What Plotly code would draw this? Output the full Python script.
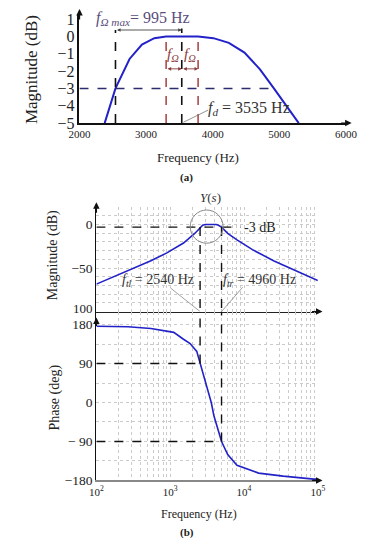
import numpy as np
import plotly.graph_objects as go

W, H = 373, 550
FONT = "Liberation Serif, Times New Roman, serif"

# ---------------- data ----------------
# panel (a): passband magnitude (linear frequency axis)
a_freq = [2378, 2540, 2751, 2937, 3123, 3300, 3535, 3780, 4010, 4242, 4476, 4709, 4918, 5128, 5291]
a_mag = [-5.0, -3.0, -1.3, -0.47, -0.1, 0.0, 0.0, 0.0, -0.1, -0.37, -0.93, -1.9, -3.0, -4.1, -5.0]
a_xticks = [2000, 3000, 4000, 5000, 6000]
a_yticks = [1, 0, -1, -2, -3, -4, -5]
f_d = 3535
f_lo = 2540
f_omega_lo, f_omega_hi = 3300, 3780
f_right3 = 4918

# panel (b): Bode plot of Y(s)
b_freq_mag = [100, 162, 329, 548, 902, 1514, 2168, 2540, 2750, 3000, 3535, 4200, 4500, 4960,
              6010, 8030, 13000, 25500, 45400, 70000, 100000]
b_mag = [-68.5, -60.7, -49.4, -41.6, -32.6, -21.3, -10.0, -3.0, -0.8, 0.0, 0.3, 0.0, -0.8, -3.0,
         -10.1, -17.6, -28.9, -41.9, -51.3, -58.4, -64.5]
b_freq_ph = [100, 268, 548, 1117, 1514, 1860, 2290, 2540, 3000, 3300, 3600, 3900, 4300, 4700, 4960,
             6010, 8030, 15740, 33900, 88500, 100000]
b_phase = [176, 175, 171, 162, 146, 136, 118, 90, 50, 22, 0, -30, -55, -78, -90,
           -120, -145, -163, -170, -177, -177]
f_tl, f_tr = 2540, 4960
b_xticks = [100, 1000, 10000, 100000]
b_xticktext = ["10<sup>2</sup>", "10<sup>3</sup>", "10<sup>4</sup>", "10<sup>5</sup>"]
b_minor = [m * d for d in (100, 1000, 10000) for m in range(2, 10)]
mag_grid = list(range(-100, 21, 10))
mag_labels = {0: "0", -50: "\u221250"}
mag_bottom_label = "100"
ph_grid = [-180, -135, -90, -45, 0, 45, 90, 135, 180]
ph_labels = {180: "180", 90: "90", 0: "0", -90: "\u2212 90", -180: "\u2212180"}
PH_TOP = 210


def px_x(p):
    return p / W


def px_y(p):
    return 1 - p / H


BLUE = "#2222c8"
fig = go.Figure()

# ---------------- panel (a) ----------------
fig.add_trace(go.Scatter(x=a_freq, y=a_mag, mode="lines", line=dict(color=BLUE, width=2),
                         xaxis="x", yaxis="y", showlegend=False))
fig.add_trace(go.Scatter(x=[2000, f_right3], y=[-3, -3], mode="lines",
                         line=dict(color="#2b2b6e", width=1.5, dash="dash"),
                         xaxis="x", yaxis="y", showlegend=False))
fig.add_trace(go.Scatter(x=[f_lo, f_lo], y=[-5, 0.37], mode="lines",
                         line=dict(color="#111", width=1.6, dash="dash"),
                         xaxis="x", yaxis="y", showlegend=False))
fig.add_trace(go.Scatter(x=[f_d, f_d], y=[-5, 0.45], mode="lines",
                         line=dict(color="#111", width=1.6, dash="dash"),
                         xaxis="x", yaxis="y", showlegend=False))
for fv in (f_omega_lo, f_omega_hi):
    fig.add_trace(go.Scatter(x=[fv, fv], y=[-5, 0], mode="lines",
                             line=dict(color="#a0302e", width=1.4, dash="dash"),
                             xaxis="x", yaxis="y", showlegend=False))
fig.add_trace(go.Scatter(x=[3560, 3930], y=[-4.95, -4.25], mode="lines",
                         line=dict(color="#777", width=0.8),
                         xaxis="x", yaxis="y", showlegend=False))

# ---------------- panel (b) magnitude ----------------
fig.add_trace(go.Scatter(x=b_freq_mag, y=b_mag, mode="lines", line=dict(color=BLUE, width=1.6),
                         xaxis="x2", yaxis="y2", showlegend=False))
fig.add_trace(go.Scatter(x=[100, 9000], y=[-3, -3], mode="lines",
                         line=dict(color="#111", width=1.4, dash="dash"),
                         xaxis="x2", yaxis="y2", showlegend=False))
for fv in (f_tl, f_tr):
    fig.add_trace(go.Scatter(x=[fv, fv], y=[-3, -100], mode="lines",
                             line=dict(color="#111", width=1.4, dash="dash"),
                             xaxis="x2", yaxis="y2", showlegend=False))
fig.add_trace(go.Scatter(x=[1010, f_tl], y=[-73, -100], mode="lines",
                         line=dict(color="#888", width=0.8), xaxis="x2", yaxis="y2", showlegend=False))
fig.add_trace(go.Scatter(x=[9600, f_tr], y=[-72, -100], mode="lines",
                         line=dict(color="#888", width=0.8), xaxis="x2", yaxis="y2", showlegend=False))

# ---------------- panel (b) phase ----------------
fig.add_trace(go.Scatter(x=b_freq_ph, y=b_phase, mode="lines", line=dict(color=BLUE, width=1.6),
                         xaxis="x3", yaxis="y3", showlegend=False))
fig.add_trace(go.Scatter(x=[100, f_tl], y=[90, 90], mode="lines",
                         line=dict(color="#111", width=1.4, dash="dash"),
                         xaxis="x3", yaxis="y3", showlegend=False))
fig.add_trace(go.Scatter(x=[100, f_tr], y=[-90, -90], mode="lines",
                         line=dict(color="#111", width=1.4, dash="dash"),
                         xaxis="x3", yaxis="y3", showlegend=False))
fig.add_trace(go.Scatter(x=[f_tl, f_tl], y=[90, PH_TOP], mode="lines",
                         line=dict(color="#111", width=1.4, dash="dash"),
                         xaxis="x3", yaxis="y3", showlegend=False))
fig.add_trace(go.Scatter(x=[f_tr, f_tr], y=[-90, PH_TOP], mode="lines",
                         line=dict(color="#111", width=1.4, dash="dash"),
                         xaxis="x3", yaxis="y3", showlegend=False))

gridc = "#cbcbcb"
layout = dict(
    width=W, height=H, margin=dict(l=0, r=0, t=0, b=0),
    paper_bgcolor="white", plot_bgcolor="rgba(0,0,0,0)",
    font=dict(family=FONT, color="#222"),
    xaxis=dict(domain=[px_x(73), px_x(357)], range=[2000, 6000], tickvals=a_xticks,
               showline=True, linecolor="#111", linewidth=1.5, showgrid=False, zeroline=False,
               ticks="", tickfont=dict(size=11, family=FONT), anchor="y"),
    yaxis=dict(domain=[px_y(122), px_y(11)], range=[-5, 1.25], tickvals=a_yticks,
               showline=True, linecolor="#111", linewidth=1.5, showgrid=False, zeroline=False,
               ticks="", tickfont=dict(size=16, family=FONT), anchor="x"),
    xaxis2=dict(domain=[px_x(91), px_x(327)], type="log", range=[2, 5], tickvals=b_xticks,
                showticklabels=False, showline=True, linecolor="#222", linewidth=1.3,
                showgrid=True, gridcolor=gridc, griddash="dot", gridwidth=1, zeroline=False,
                minor=dict(tickvals=b_minor, showgrid=True, gridcolor=gridc, griddash="dot", gridwidth=1),
                ticks="", anchor="y2"),
    yaxis2=dict(domain=[px_y(315), px_y(208)], range=[-100, 20], tickvals=mag_grid,
                ticktext=[mag_labels.get(v, "") for v in mag_grid],
                showline=True, linecolor="#111", linewidth=1.3, showgrid=True, gridcolor=gridc,
                griddash="dot", gridwidth=1, zeroline=False, ticks="",
                tickfont=dict(size=13.5, family=FONT), anchor="x2"),
    xaxis3=dict(domain=[px_x(91), px_x(327)], type="log", range=[2, 5], tickvals=b_xticks,
                ticktext=b_xticktext, tickfont=dict(size=11, family=FONT),
                showline=True, linecolor="#888", linewidth=2.2,
                showgrid=True, gridcolor=gridc, griddash="dot", gridwidth=1, zeroline=False,
                minor=dict(tickvals=b_minor, showgrid=True, gridcolor=gridc, griddash="dot", gridwidth=1),
                ticks="", anchor="y3"),
    yaxis3=dict(domain=[px_y(488), px_y(315)], range=[-180, PH_TOP], tickvals=ph_grid,
                ticktext=[ph_labels.get(v, "") for v in ph_grid],
                showline=True, linecolor="#111", linewidth=1.3, showgrid=True, gridcolor=gridc,
                griddash="dot", gridwidth=1, zeroline=False, ticks="",
                tickfont=dict(size=13.5, family=FONT), anchor="x3"),
)
fig.update_layout(**layout)

ann = []


def text(x, y, s, size, color="#222", xref="paper", yref="paper", xanchor="center", textangle=0):
    ann.append(dict(x=x, y=y, xref=xref, yref=yref, text=s, showarrow=False,
                    font=dict(family=FONT, size=size, color=color), xanchor=xanchor,
                    yanchor="middle", textangle=textangle))


def arrow_px(xp, yp, dx, dy, color="#111"):
    ann.append(dict(x=px_x(xp), y=px_y(yp), xref="paper", yref="paper", ax=dx, ay=dy,
                    axref="pixel", ayref="pixel", showarrow=True, arrowhead=2, arrowsize=1,
                    arrowwidth=1.3, arrowcolor=color, text=""))


# panel (a) texts
text(px_x(141), px_y(15), "<i>f</i><sub><i>\u03a9 max</i></sub>= 995 Hz", 16, "#5a4e7c")
text(3410, -1.05, "<i>f</i><sub><i>\u03a9</i></sub>", 15, "#8b3a3a", "x", "y")
text(3665, -1.05, "<i>f</i><sub><i>\u03a9</i></sub>", 15, "#8b3a3a", "x", "y")
text(4545, -4.15, "<i>f</i><sub><i>d</i></sub> = 3535 Hz", 16, "#333", "x", "y")
text(px_x(22), px_y(67), "Magnitude (dB)", 17, "#222", textangle=-90)
text(px_x(199), px_y(157), "Frequency (Hz)", 13)
text(px_x(187), px_y(178), "<b>(a)</b>", 11)

# double arrows in (a)
ann.append(dict(x=f_d, y=0.37, ax=f_lo, ay=0.37, xref="x", yref="y", axref="x", ayref="y",
                showarrow=True, arrowhead=2, startarrowhead=2, arrowside="end+start",
                arrowsize=0.8, arrowwidth=0.9, arrowcolor="#444", text=""))
ann.append(dict(x=f_d, y=-1.87, ax=f_omega_lo, ay=-1.87, xref="x", yref="y", axref="x", ayref="y",
                showarrow=True, arrowhead=2, startarrowhead=2, arrowside="end+start",
                arrowsize=0.8, arrowwidth=0.9, arrowcolor="#8b3a3a", text=""))
ann.append(dict(x=f_omega_hi, y=-1.87, ax=f_d, ay=-1.87, xref="x", yref="y", axref="x", ayref="y",
                showarrow=True, arrowhead=2, startarrowhead=2, arrowside="end+start",
                arrowsize=0.8, arrowwidth=0.9, arrowcolor="#8b3a3a", text=""))

# axis arrows (a)
arrow_px(73, 5, 0, 12)
arrow_px(363, 122, -12, 0)

# panel (b) texts
text(px_x(213), px_y(198), "<i>Y</i>(<i>s</i>)", 13, "#333")
text(np.log10(9300), -3, "-3 dB", 14, "#222", "x2", "y2", xanchor="left")
text(np.log10(690), -64, "<i>f</i><sub><i>tl</i></sub> = 2540 Hz", 14, "#333", "x2", "y2")
text(np.log10(16260), -64, "<i>f</i><sub><i>tr</i></sub> = 4960 Hz", 14, "#333", "x2", "y2")
text(px_x(45), px_y(257), "Magnitude (dB)", 14, "#222", textangle=-90)
text(px_x(47), px_y(403), "Phase (deg)", 14, "#222", textangle=-90)
text(px_x(200), px_y(522), "Frequency (Hz)", 12)
text(px_x(188), px_y(541), "<b>(b)</b>", 11)
# bottom label of the magnitude axis (placed just above the phase "180")
text(px_x(89), px_y(312), mag_bottom_label, 13, "#222", xanchor="right")

# axis arrows (b)
arrow_px(91, 203, 0, 12)
arrow_px(332, 315, -12, 0)
arrow_px(91, 321, 0, 10)
arrow_px(332, 488, -12, 0, "#111")

fig.update_layout(annotations=ann)

# circle around the resonance peak
fig.add_shape(type="circle", xref="paper", yref="paper",
              x0=px_x(191), x1=px_x(226), y0=px_y(245), y1=px_y(211),
              line=dict(color="#888", width=1))

fig.write_html("out.html", config={"displayModeBar": False},
               post_script="document.body.style.margin='0';")
